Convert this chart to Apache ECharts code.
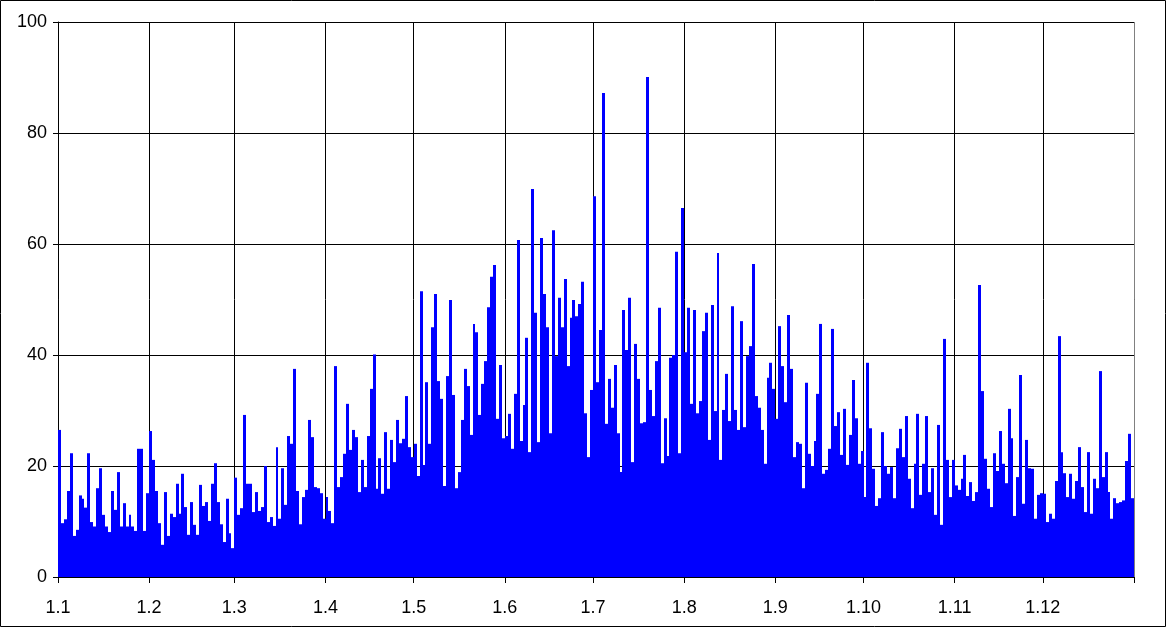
<!DOCTYPE html>
<html><head><meta charset="utf-8">
<script src="https://cdn.jsdelivr.net/npm/echarts@6/dist/echarts.min.js"></script>
<style>html,body{margin:0;padding:0;background:#fff}#c{width:1166px;height:627px}</style>
</head><body><div id="c"></div>
<script>
// days per month (leap year) – categories are "day.month"
const monthDays = [31, 29, 31, 30, 31, 30, 31, 31, 30, 31, 30, 31];

const jan = [26.5, 9.7, 10.4, 15.5, 22.3, 7.4, 8.5, 14.7, 14.1, 12.5, 22.3, 9.9, 9.1, 16.0, 19.6, 11.2, 9.1, 8.1, 15.5, 12.1, 18.9, 9.1, 13.3, 9.1, 11.2, 9.1, 8.3, 23.1, 23.1, 8.3, 15.1];
const feb = [26.3, 21.1, 15.5, 9.7, 5.8, 15.3, 7.4, 11.4, 10.8, 16.8, 11.4, 18.6, 12.6, 7.6, 13.5, 9.4, 7.6, 16.6, 12.8, 13.5, 10.1, 16.8, 20.5, 13.5, 9.5, 6.3, 14.1, 7.9, 5.2];
const mar = [17.9, 11.2, 12.4, 29.2, 16.8, 16.8, 11.7, 15.3, 11.9, 12.6, 20.0, 9.9, 10.8, 9.2, 23.4, 10.5, 19.6, 13.0, 25.4, 24.0, 37.5, 15.5, 9.5, 14.4, 15.7, 28.3, 25.2, 16.2, 16.0, 15.1, 10.5];
const apr = [14.4, 11.9, 9.7, 38.0, 16.2, 18.0, 22.2, 31.2, 22.9, 26.5, 25.2, 15.3, 21.1, 16.2, 25.4, 33.9, 40.1, 15.9, 21.4, 15.0, 26.1, 15.9, 24.7, 20.7, 28.3, 24.1, 24.9, 32.6, 23.4, 21.6];
const may = [24.0, 18.2, 51.5, 20.2, 35.1, 24.0, 45.0, 51.0, 35.3, 32.1, 16.4, 36.2, 49.9, 32.8, 16.0, 18.9, 28.3, 37.5, 34.4, 25.6, 45.6, 44.1, 29.2, 34.8, 38.9, 48.6, 54.1, 56.2, 28.5, 38.2, 25.0];
const jun = [25.4, 29.4, 23.1, 33.0, 60.7, 24.5, 31.0, 43.1, 22.5, 69.9, 47.6, 24.3, 61.1, 51.0, 45.0, 25.9, 62.5, 39.8, 50.3, 45.0, 53.7, 38.0, 46.7, 49.9, 47.0, 49.2, 53.2, 29.5, 21.6, 33.7];
const jul = [68.6, 35.1, 44.5, 87.2, 27.6, 35.7, 30.5, 38.2, 25.9, 18.9, 48.1, 40.9, 50.3, 20.7, 42.0, 35.7, 27.7, 27.9, 90.1, 33.7, 29.0, 38.9, 48.5, 20.5, 28.6, 21.8, 39.5, 40.0, 58.6, 22.3, 66.5];
const aug = [40.5, 48.5, 31.2, 48.1, 29.5, 31.7, 44.3, 47.6, 24.7, 49.0, 29.9, 58.4, 21.1, 30.1, 36.6, 28.1, 48.8, 30.1, 26.5, 46.1, 27.0, 39.8, 41.6, 56.4, 32.6, 30.5, 26.5, 20.4, 35.9, 38.6, 33.9];
const sep = [28.5, 45.2, 38.0, 31.5, 47.2, 37.5, 21.6, 24.3, 24.0, 16.0, 35.0, 22.2, 20.0, 24.5, 33.0, 45.6, 18.6, 19.3, 23.1, 44.7, 27.2, 29.7, 22.0, 30.3, 20.2, 25.6, 35.5, 28.6, 20.4, 22.7];
const oct = [14.4, 38.6, 26.8, 19.5, 12.8, 14.2, 26.1, 20.0, 18.6, 19.8, 14.2, 23.2, 26.7, 21.6, 29.0, 17.7, 12.4, 20.4, 29.4, 14.8, 20.4, 29.0, 15.3, 19.6, 11.2, 27.4, 9.4, 42.9, 21.1, 14.4, 21.1];
const nov = [16.5, 15.7, 17.7, 22.0, 14.6, 17.1, 13.7, 15.3, 52.6, 33.5, 21.3, 15.9, 12.6, 22.3, 19.1, 26.3, 20.4, 16.9, 30.3, 25.0, 11.0, 18.0, 36.4, 13.2, 24.7, 19.6, 19.5, 10.5, 14.8, 15.1];
const dec = [15.0, 9.9, 11.4, 10.5, 17.3, 43.4, 22.5, 18.7, 14.4, 18.6, 14.1, 17.3, 23.4, 16.2, 11.7, 22.5, 11.4, 17.7, 16.0, 37.1, 18.0, 22.5, 15.3, 10.5, 14.2, 13.3, 13.5, 13.8, 20.9, 25.8, 14.2];

const yTicks = [0, 20, 40, 60, 80, 100];

const values = [].concat(jan, feb, mar, apr, may, jun, jul, aug, sep, oct, nov, dec);
const categories = [];
monthDays.forEach(function (n, m) {
  for (let d = 1; d <= n; d++) categories.push(d + '.' + (m + 1));
});
const isMonthStart = function (i, v) { return String(v).split('.')[0] === '1'; };

const FONT = 'Liberation Sans, Arial, sans-serif';
const chart = echarts.init(document.getElementById('c'), null, { renderer: 'canvas' });
chart.setOption({
  animation: false,
  backgroundColor: '#ffffff',
  grid: { left: 58, right: 32, top: 22, bottom: 50, containLabel: false },
  xAxis: {
    type: 'category',
    data: categories,
    boundaryGap: true,
    axisLine: { show: true, lineStyle: { color: '#000', width: 1 } },
    axisTick: { show: true, interval: isMonthStart, length: 6, inside: false, lineStyle: { color: '#000' } },
    splitLine: { show: true, interval: isMonthStart, lineStyle: { color: '#000', width: 1 } },
    axisLabel: { show: true, interval: isMonthStart, color: '#000', fontFamily: FONT, fontSize: 18, margin: 22, padding: [0, 3, 0, 0] }
  },
  yAxis: {
    type: 'value',
    min: yTicks[0],
    max: yTicks[yTicks.length - 1],
    interval: yTicks[1] - yTicks[0],
    axisLine: { show: true, lineStyle: { color: '#000', width: 1 } },
    axisTick: { show: true, length: 5, lineStyle: { color: '#000' } },
    splitLine: { show: true, lineStyle: { color: '#000', width: 1 } },
    axisLabel: { color: '#000', fontFamily: FONT, fontSize: 18, margin: 11 }
  },
  series: [{
    type: 'custom',
    data: values.map(function (v, i) { return [i, v]; }),
    encode: { x: 0, y: 1 },
    silent: true,
    z: 3,
    renderItem: function (params, api) {
      const i = api.value(0);
      const v = api.value(1);
      const top = api.coord([i, v]);
      const base = api.coord([i, 0]);
      const bw = api.size([1, 0])[0];
      const x0 = Math.round(top[0] - bw / 2);
      const x1 = Math.round(top[0] + bw / 2);
      return {
        type: 'rect',
        shape: { x: x0, y: top[1], width: x1 - x0, height: base[1] - top[1] },
        style: { fill: '#0000FF' }
      };
    }
  }],
  graphic: [
    { type: 'rect', z: 100, silent: true, shape: { x: 0.5, y: 0.5, width: 1165, height: 626 }, style: { fill: 'none', stroke: '#000', lineWidth: 1 } },
    { type: 'line', z: 100, silent: true, shape: { x1: 1134.5, y1: 22, x2: 1134.5, y2: 577 }, style: { stroke: '#808080', lineWidth: 1 } }
  ]
});
</script>
</body></html>
